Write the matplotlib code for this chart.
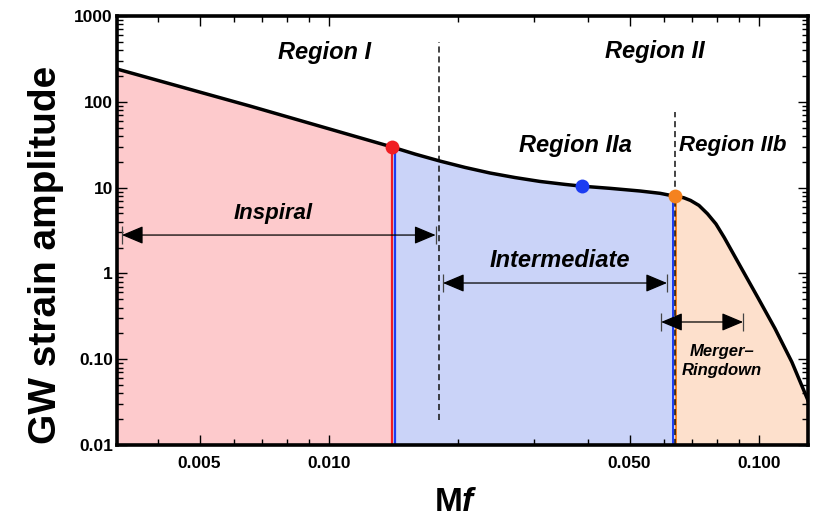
import matplotlib
matplotlib.use("Agg")
import matplotlib.pyplot as plt
from matplotlib.transforms import offset_copy
from matplotlib.patches import ArrowStyle

plt.rcParams["font.family"] = ["Liberation Sans", "DejaVu Sans"]
plt.rcParams["mathtext.fontset"] = "custom"
plt.rcParams["mathtext.rm"] = "Liberation Sans:bold"
plt.rcParams["mathtext.it"] = "Liberation Sans:bold:italic"

# amplitude curve, split by region (segments share their end points)
f_insp = [0.003214, 0.00655, 0.01403]
amp_insp = [241, 89.3, 29.7]

f_int = [0.01403, 0.01585, 0.01811, 0.02071, 0.02368, 0.02708, 0.03096,
         0.03539, 0.0387, 0.04502, 0.05289, 0.05887, 0.0636]
amp_int = [29.7, 24.6, 20.4, 17.2, 14.8, 13.1, 11.8,
           10.9, 10.4, 9.81, 9.13, 8.58, 7.95]

f_mr = [0.0636, 0.0668, 0.0693, 0.0725, 0.0759, 0.0794, 0.0830, 0.0909,
        0.0995, 0.1089, 0.1192, 0.130]
amp_mr = [7.95, 7.62, 7.09, 6.20, 4.95, 3.77, 2.62, 1.16,
          0.517, 0.228, 0.0928, 0.033]

# transition frequencies and marked points
f_1 = 0.01403      # end of inspiral
f_2 = 0.0636       # start of merger-ringdown
f_split = 0.0180   # Region I / Region II
f_peak = 0.0387
amp_peak = 10.4

# arrow spans (start, end, height)
insp_span = (0.0033, 0.0177, 2.80)
inter_span = (0.01841, 0.0611, 0.773)
mr_span = (0.0592, 0.0918, 0.2715)

x_ticks = [0.005, 0.01, 0.05, 0.1]
x_labels = ["0.005", "0.010", "0.050", "0.100"]
y_ticks = [0.01, 0.1, 1, 10, 100, 1000]
y_labels = ["0.01", "0.10", "1", "10", "100", "1000"]

pink = "#fdcacc"
lav = "#cad3f8"
peach = "#fde0cc"
red = "#f01e23"
blue = "#1c3cf2"
orange = "#f5821f"

fig = plt.figure(figsize=(8.13, 5.22), dpi=100)
ax = fig.add_axes([0.1439, 0.1475, 0.850, 0.8218])
ax.set_xscale("log")
ax.set_yscale("log")
ax.set_xlim(0.003214, 0.130)
ax.set_ylim(0.01, 1000)

# shaded regions under the curve
ax.fill_between(f_insp, 0.01, amp_insp, color=pink, lw=0)
ax.fill_between(f_int, 0.01, amp_int, color=lav, lw=0)
ax.fill_between(f_mr, 0.01, amp_mr, color=peach, lw=0)

# boundaries between regions
ax.plot([f_1, f_1], [0.01, amp_insp[-1]], color=red, lw=1.6, zorder=3)
ax.plot([f_1, f_1], [0.01, amp_insp[-1]], color=blue, lw=1.6, zorder=3,
        transform=offset_copy(ax.transData, fig=fig, x=3, y=0, units="dots"))
ax.plot([f_2, f_2], [0.01, amp_int[-1]], color=blue, lw=1.4, zorder=3,
        transform=offset_copy(ax.transData, fig=fig, x=-1.5, y=0, units="dots"))
ax.plot([f_2, f_2], [0.01, amp_int[-1]], color=orange, lw=1.4, zorder=3,
        transform=offset_copy(ax.transData, fig=fig, x=1.5, y=0, units="dots"))

ax.plot([f_split, f_split], [0.0195, 497], color="#111111", lw=1.1,
        dashes=(4, 2.5), zorder=4)
ax.plot([f_2, f_2], [0.01, 76], color="#111111", lw=1.1,
        dashes=(4, 2.5), zorder=4)

# the amplitude curve
ax.plot(f_insp + f_int[1:] + f_mr[1:], amp_insp + amp_int[1:] + amp_mr[1:],
        color="black", lw=2.5, zorder=5, solid_joinstyle="round")

ax.plot(f_1, amp_insp[-1], "o", color=red, ms=10, zorder=6, mec="none")
ax.plot(f_peak, amp_peak, "o", color=blue, ms=10, zorder=6, mec="none")
ax.plot(f_2, amp_int[-1], "o", color=orange, ms=10, zorder=6, mec="none")

# double-headed arrows with end bars
head = ArrowStyle("<|-|>", head_length=0.95, head_width=0.4)
for x0, x1, y in [insp_span, inter_span, mr_span]:
    ax.annotate("", xy=(x1, y), xytext=(x0, y),
                arrowprops=dict(arrowstyle=head, color="black", lw=0.9,
                                mutation_scale=14, shrinkA=0, shrinkB=0),
                zorder=7)
    ax.plot([x0, x1], [y, y], "|", color="#444444", ms=13, mew=0.9, zorder=7)

lbl = dict(ha="center", va="center", fontweight="bold", fontstyle="italic",
           transform=ax.transAxes, zorder=8)
ax.text(0.301, 0.916, "Region I", fontsize=17, **lbl)
ax.text(0.779, 0.918, "Region II", fontsize=17, **lbl)
ax.text(0.663, 0.699, "Region IIa", fontsize=17, **lbl)
ax.text(0.8915, 0.699, "Region IIb", fontsize=16, **lbl)
ax.text(0.226, 0.5385, "Inspiral", fontsize=16, **lbl)
ax.text(0.641, 0.431, "Intermediate", fontsize=17, **lbl)
ax.text(0.8755, 0.196, "Merger–\nRingdown", fontsize=12, linespacing=1.35, **lbl)

ax.set_xticks(x_ticks)
ax.set_xticklabels(x_labels)
ax.set_yticks(y_ticks)
ax.set_yticklabels(y_labels)
ax.tick_params(which="both", direction="in", top=True, right=True,
               labelsize=12.5, width=1.0)
ax.tick_params(which="major", length=7)
ax.tick_params(which="minor", length=4)
for lab in ax.get_xticklabels() + ax.get_yticklabels():
    lab.set_fontweight("bold")
ax.tick_params(axis="x", pad=8)
ax.tick_params(axis="y", pad=3)

for sp in ax.spines.values():
    sp.set_linewidth(2.6)
    sp.set_zorder(10)

ax.set_ylabel("GW strain amplitude", fontsize=28, fontweight="bold")
ax.yaxis.set_label_coords(-0.077, 0.443)
ax.set_xlabel(r"$\mathrm{M}\mathit{f}$", fontsize=24)
ax.xaxis.set_label_coords(0.49, -0.097)

fig.savefig("out.png", dpi=100)
